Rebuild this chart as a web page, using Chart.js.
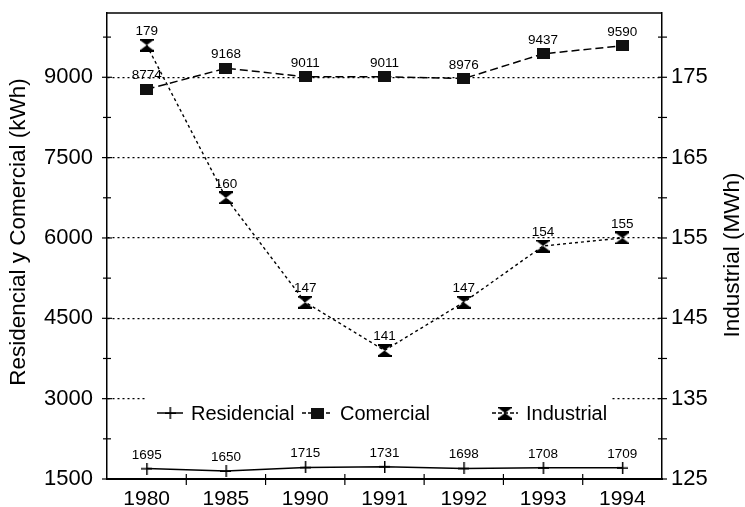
<!DOCTYPE html>
<html lang="es">
<head>
<meta charset="UTF-8">
<title>Consumo de energía 1980-1994</title>
<script src="https://cdn.jsdelivr.net/npm/chart.js"></script>
<style>
  html, body { margin: 0; padding: 0; background: #fff; }
  #wrap { width: 745px; height: 507px; }
</style>
</head>
<body>
<div id="wrap"><canvas id="chart" width="745" height="507"></canvas></div>
<script>
  const years = ['1980', '1985', '1990', '1991', '1992', '1993', '1994'];
  const residencial = [1695, 1650, 1715, 1731, 1698, 1708, 1709];
  const comercial = [8774, 9168, 9011, 9011, 8976, 9437, 9590];
  const industrial = [179, 160, 147, 141, 147, 154, 155];

  const leftTicks = [1500, 3000, 4500, 6000, 7500, 9000];
  const rightTicks = [125, 135, 145, 155, 165, 175];
  const leftTitle = 'Residencial y Comercial (kWh)';
  const rightTitle = 'Industrial (MWh)';

  const FONT = "'Liberation Sans', Arial, sans-serif";
  Chart.defaults.font.family = FONT;
  Chart.defaults.color = '#000';

  // marker images
  function crossMark() {
    const c = document.createElement('canvas');
    c.width = 11; c.height = 12;
    const g = c.getContext('2d');
    g.fillStyle = '#000';
    g.fillRect(5, 0, 1.5, 12);
    g.fillRect(0, 5.5, 11, 1.5);
    return c;
  }
  function squareMark() {
    const c = document.createElement('canvas');
    c.width = 13; c.height = 11;
    const g = c.getContext('2d');
    g.fillStyle = '#111';
    g.fillRect(0, 0, 13, 11);
    return c;
  }
  function hourglassMark() {
    const c = document.createElement('canvas');
    c.width = 14; c.height = 13;
    const g = c.getContext('2d');
    g.fillStyle = '#000';
    g.fillRect(0, 0, 14, 2);
    g.fillRect(0, 11, 14, 2);
    g.beginPath(); g.moveTo(1, 2); g.lineTo(13, 2); g.lineTo(7, 6.5); g.closePath(); g.fill();
    g.beginPath(); g.moveTo(1, 11); g.lineTo(13, 11); g.lineTo(7, 6.5); g.closePath(); g.fill();
    return c;
  }
  const marks = [crossMark(), squareMark(), hourglassMark()];

  // value labels above every point
  const valueLabels = {
    id: 'valueLabels',
    afterDatasetsDraw(chart) {
      const ctx = chart.ctx;
      ctx.save();
      ctx.fillStyle = '#000';
      ctx.textAlign = 'center';
      ctx.textBaseline = 'bottom';
      chart.data.datasets.forEach((ds, i) => {
        ctx.font = '13.5px ' + FONT;
        chart.getDatasetMeta(i).data.forEach((pt, j) => {
          ctx.fillText(String(ds.data[j]), pt.x, pt.y - 7);
        });
      });
      ctx.restore();
    }
  };

  // box top, tick marks crossing axes, axis titles, legend
  const frame = {
    id: 'frame',
    beforeDatasetsDraw(chart) {
      const ctx = chart.ctx;
      const a = chart.chartArea;
      ctx.save();
      ctx.strokeStyle = '#000';
      ctx.lineWidth = 1.5;
      ctx.beginPath();
      ctx.moveTo(a.left, a.top); ctx.lineTo(a.right, a.top);
      ctx.stroke();

      ctx.lineWidth = 1.2;
      const y = chart.scales.y, y2 = chart.scales.y2, x = chart.scales.x;
      y.ticks.forEach(t => {
        const p = y.getPixelForValue(t.value);
        const l = leftTicks.includes(t.value) ? 5 : 4;
        ctx.beginPath(); ctx.moveTo(a.left - l, p); ctx.lineTo(a.left + l, p); ctx.stroke();
      });
      y2.ticks.forEach(t => {
        const p = y2.getPixelForValue(t.value);
        ctx.beginPath(); ctx.moveTo(a.right - 4, p); ctx.lineTo(a.right + 5, p); ctx.stroke();
      });
      for (let i = 1; i < years.length; i++) {
        const p = (x.getPixelForValue(i - 1) + x.getPixelForValue(i)) / 2;
        ctx.beginPath(); ctx.moveTo(p, a.bottom - 5); ctx.lineTo(p, a.bottom + 6); ctx.stroke();
      }

      // legend inside the plot
      ctx.fillStyle = '#fff';
      ctx.fillRect(147, 394, 463, 36);
      const lx = [157, 302, 492];
      const lw = [26, 30, 26];
      const ly = 413;
      ctx.fillStyle = '#000';
      ctx.font = '20px ' + FONT;
      ctx.textBaseline = 'middle';
      ctx.textAlign = 'left';
      chart.data.datasets.forEach((ds, i) => {
        ctx.save();
        ctx.lineWidth = ds.borderWidth;
        ctx.setLineDash(i === 0 ? [] : [4, 2]);
        ctx.beginPath(); ctx.moveTo(lx[i], ly); ctx.lineTo(lx[i] + lw[i], ly); ctx.stroke();
        ctx.restore();
        const m = marks[i];
        ctx.drawImage(m, lx[i] + lw[i] / 2 - m.width / 2, ly - m.height / 2);
        ctx.fillText(ds.label, lx[i] + lw[i] + 8, ly + 1);
      });

      // axis titles, both read bottom to top
      ctx.font = '22.5px ' + FONT;
      ctx.textAlign = 'center';
      ctx.save();
      ctx.translate(19, 232); ctx.rotate(-Math.PI / 2);
      ctx.fillText(leftTitle, 0, 0);
      ctx.restore();
      ctx.save();
      ctx.translate(733, 255); ctx.rotate(-Math.PI / 2);
      ctx.fillText(rightTitle, 0, 0);
      ctx.restore();
      ctx.restore();
    }
  };

  new Chart(document.getElementById('chart'), {
    type: 'line',
    data: {
      labels: years,
      datasets: [
        {
          label: 'Residencial', data: residencial, yAxisID: 'y',
          borderColor: '#000', borderWidth: 1.5,
          pointStyle: marks[0], pointRadius: 6
        },
        {
          label: 'Comercial', data: comercial, yAxisID: 'y',
          borderColor: '#000', borderWidth: 1.5, borderDash: [8, 4],
          pointStyle: marks[1], pointRadius: 6
        },
        {
          label: 'Industrial', data: industrial, yAxisID: 'y2',
          borderColor: '#000', borderWidth: 1.4, borderDash: [3, 3],
          pointStyle: marks[2], pointRadius: 6
        }
      ]
    },
    options: {
      responsive: false,
      animation: false,
      layout: { padding: { top: 13, left: 0, right: 0, bottom: 0 } },
      plugins: {
        legend: { display: false },
        tooltip: { enabled: false }
      },
      scales: {
        x: {
          offset: true,
          grid: { display: false },
          border: { display: true, color: '#000', width: 2 },
          ticks: { padding: 0, font: { size: 21 }, color: '#000' },
          afterFit: s => { s.height = 28; s.paddingLeft = 0; s.paddingRight = 0; }
        },
        y: {
          position: 'left',
          min: 1500, max: 10200,
          afterBuildTicks: s => {
            const t = [];
            for (let v = 1500; v < 10200; v += 750) t.push({ value: v });
            s.ticks = t;
          },
          afterFit: s => { s.width = 107; s.paddingTop = 0; s.paddingBottom = 0; },
          ticks: {
            padding: 14, font: { size: 22 }, color: '#000',
            callback: v => leftTicks.includes(v) ? String(v) : ''
          },
          grid: {
            drawTicks: false,
            lineWidth: 1.3,
            color: c => (c.tick && leftTicks.includes(c.tick.value) && c.tick.value > 1500) ? '#000' : 'rgba(0,0,0,0)'
          },
          border: { display: true, color: '#000', width: 1.5, dash: [2, 3] }
        },
        y2: {
          position: 'right',
          min: 125, max: 183,
          afterBuildTicks: s => {
            const t = [];
            for (let v = 125; v <= 180; v += 5) t.push({ value: v });
            s.ticks = t;
          },
          afterFit: s => { s.width = 83; s.paddingTop = 0; s.paddingBottom = 0; },
          ticks: {
            padding: 9, font: { size: 22 }, color: '#000',
            callback: v => rightTicks.includes(v) ? String(v) : ''
          },
          grid: { drawOnChartArea: false, drawTicks: false },
          border: { display: true, color: '#000', width: 1.5 }
        }
      }
    },
    plugins: [frame, valueLabels]
  });
</script>
</body>
</html>
